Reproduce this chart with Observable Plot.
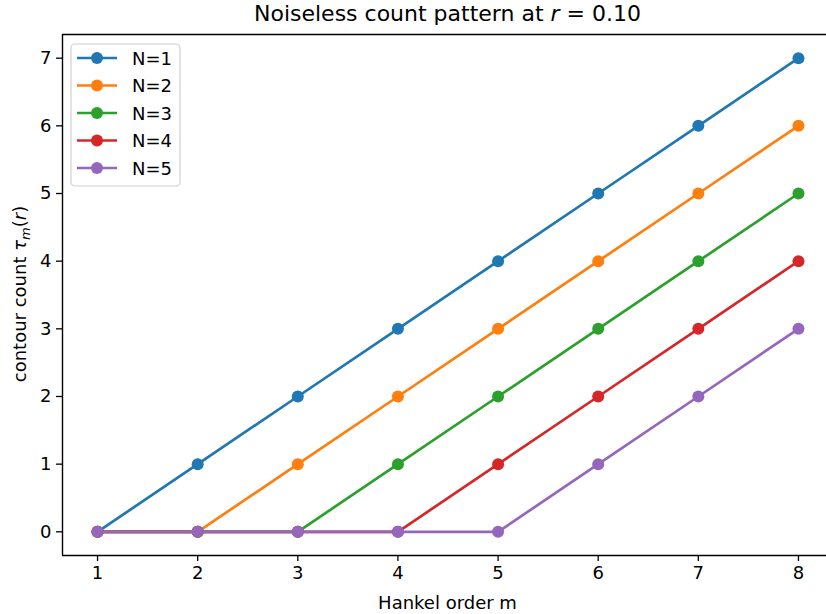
<!DOCTYPE html>
<html><head><meta charset="utf-8">
<script src="https://cdn.jsdelivr.net/npm/d3@7"></script>
<script src="https://cdn.jsdelivr.net/npm/@observablehq/plot@0.6"></script>
<style>body{margin:0;background:#fff;} svg{font-family:"DejaVu Sans",sans-serif;}</style>
</head><body><div id="chart"></div>
<script>
const ms = [1, 2, 3, 4, 5, 6, 7, 8];
const seriesNames = ["N=1", "N=2", "N=3", "N=4", "N=5"];
const n1 = [0, 1, 2, 3, 4, 5, 6, 7];
const n2 = [0, 0, 1, 2, 3, 4, 5, 6];
const n3 = [0, 0, 0, 1, 2, 3, 4, 5];
const n4 = [0, 0, 0, 0, 1, 2, 3, 4];
const n5 = [0, 0, 0, 0, 0, 1, 2, 3];
const seriesValues = [n1, n2, n3, n4, n5];
const colors = ["#1f77b4", "#ff7f0e", "#2ca02c", "#d62728", "#9467bd"];
const xTicks = [1, 2, 3, 4, 5, 6, 7, 8];
const yTicks = [0, 1, 2, 3, 4, 5, 6, 7];

const marks = [
  Plot.axisX({ticks: xTicks, tickSize: 6, tickPadding: 5, fontSize: 18, strokeWidth: 1.3, label: null, tickFormat: d => String(d)}),
  Plot.axisY({ticks: yTicks, tickSize: 6, tickPadding: 5, fontSize: 18, strokeWidth: 1.3, label: null, tickFormat: d => String(d)}),
  Plot.ruleX([0.65], {stroke: "#000", strokeWidth: 1.4}),
  Plot.ruleY([-0.35, 7.35], {stroke: "#000", strokeWidth: 1.4})
];
seriesValues.forEach((vals, i) => {
  const rows = ms.map((m, j) => ({m, v: vals[j]}));
  marks.push(Plot.line(rows, {x: "m", y: "v", stroke: colors[i], strokeWidth: 2.7}));
  marks.push(Plot.dot(rows, {x: "m", y: "v", r: 6, fill: colors[i], stroke: "none"}));
});

const svgEl = Plot.plot({
  width: 826, height: 614,
  marginTop: 34, marginBottom: 59, marginLeft: 62, marginRight: 0,
  x: {domain: [0.65, 8.28]},
  y: {domain: [-0.35, 7.35]},
  style: {fontFamily: "DejaVu Sans", fontSize: "18px", background: "#fff", color: "#000"},
  marks
});
document.getElementById("chart").appendChild(svgEl);
const svg = d3.select(svgEl);

// title
const t = svg.append("text").attr("x", 447.5).attr("y", 21).attr("text-anchor", "middle")
  .attr("font-size", 22).attr("fill", "#000");
t.append("tspan").text("Noiseless count pattern at ");
t.append("tspan").attr("font-style", "italic").text("r");
t.append("tspan").text(" = 0.10");

// x label
svg.append("text").attr("x", 447.5).attr("y", 609).attr("text-anchor", "middle")
  .attr("font-size", 18).attr("fill", "#000").text("Hankel order m");

// y label
const yl = svg.append("text").attr("transform", "translate(26,294) rotate(-90)")
  .attr("text-anchor", "middle").attr("font-size", 18).attr("fill", "#000");
yl.append("tspan").text("contour count ");
yl.append("tspan").attr("font-style", "italic").text("τ");
yl.append("tspan").attr("font-style", "italic").attr("font-size", 13).attr("dy", 4).text("m");
yl.append("tspan").attr("dy", -4).text("(");
yl.append("tspan").attr("font-style", "italic").text("r");
yl.append("tspan").text(")");

// legend
const lg = svg.append("g");
lg.append("rect").attr("x", 71).attr("y", 44).attr("width", 109).attr("height", 142)
  .attr("rx", 4).attr("fill", "#fff").attr("fill-opacity", 0.8).attr("stroke", "#d0d0d0").attr("stroke-width", 1.2);
seriesNames.forEach((name, i) => {
  const y = 58 + i * 27.5;
  lg.append("line").attr("x1", 77).attr("x2", 117).attr("y1", y).attr("y2", y)
    .attr("stroke", colors[i]).attr("stroke-width", 2.7);
  lg.append("circle").attr("cx", 97).attr("cy", y).attr("r", 6).attr("fill", colors[i]);
  lg.append("text").attr("x", 132).attr("y", y + 6.5).attr("text-anchor", "start")
    .attr("font-size", 18).attr("fill", "#000").text(name);
});
</script></body></html>
